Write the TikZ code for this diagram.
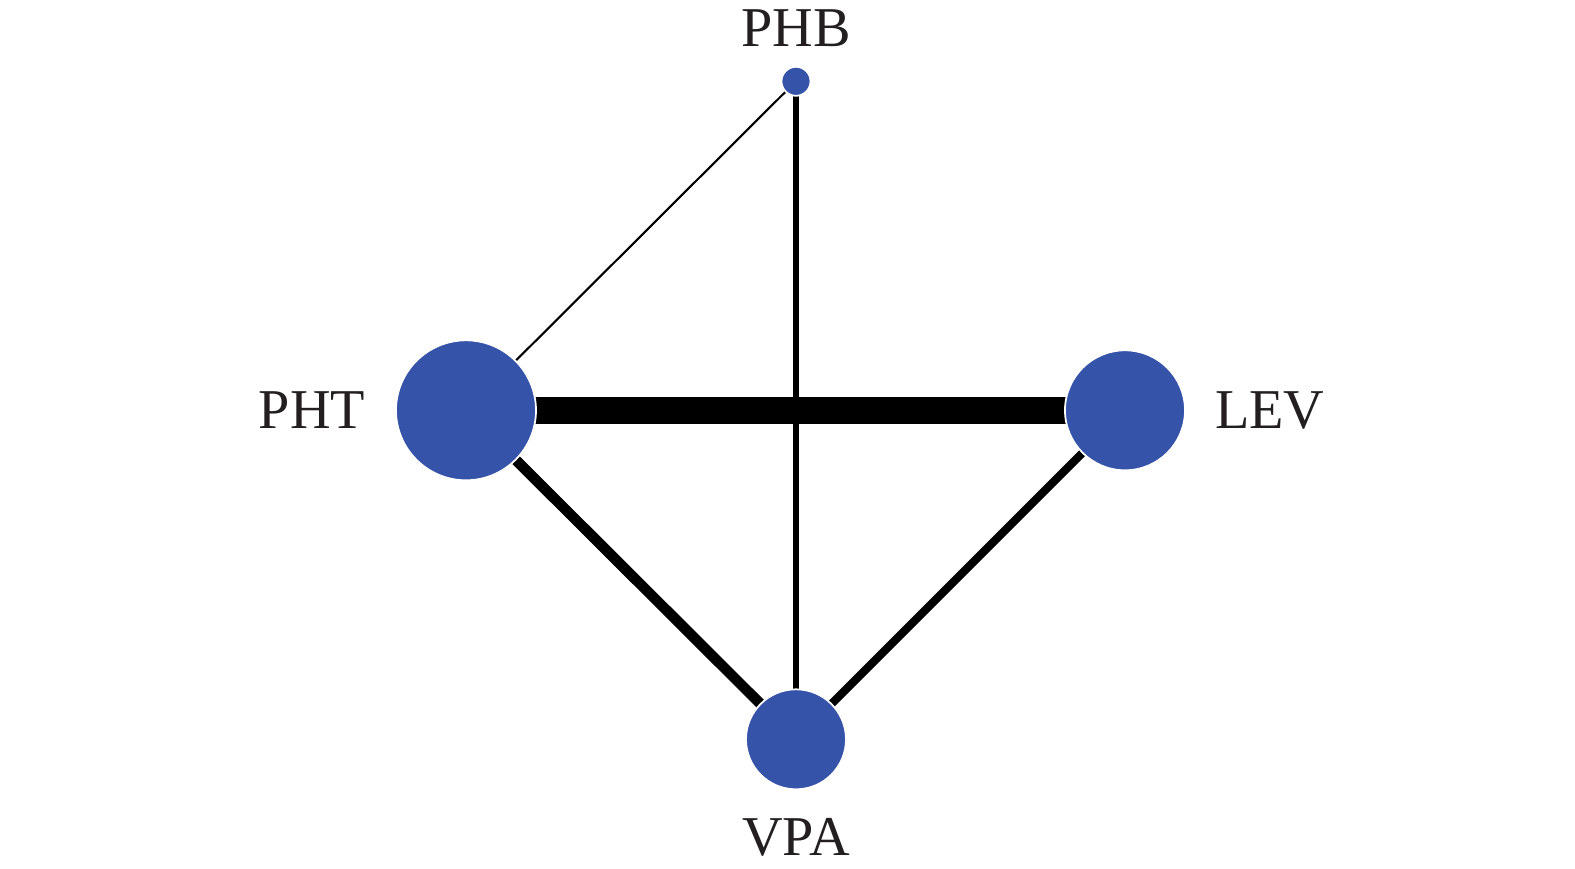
\documentclass[tikz,border=0pt]{standalone}
\usepackage{fontspec}
\setmainfont{Liberation Serif}
\usetikzlibrary{backgrounds}
\definecolor{netblue}{RGB}{52,83,169}
\definecolor{netline}{RGB}{35,31,32}

\begin{document}
\begin{tikzpicture}[line join=round, text=netline, font=\fontsize{16}{19}\selectfont,
  trt/.style={circle, fill=netblue, draw=white, line width=0.5pt, inner sep=0pt}]
\useasboundingbox (-7.96,-4.577) rectangle (7.79,4.103);
\node[trt, minimum size=0.29cm, label={[label distance=2pt]above:{PHB}}]   (PHB) at (0,3.29) {};
\node[trt, minimum size=1.40cm, label={[label distance=5pt]left:{PHT}}]    (PHT) at (-3.30,0) {};
\node[trt, minimum size=1.20cm, label={[label distance=4.8pt]right:{LEV}}] (LEV) at (3.29,0) {};
\node[trt, minimum size=1.00cm, label={[label distance=4.6pt]below:{VPA}}] (VPA) at (0,-3.29) {};
\begin{scope}[on background layer, draw=netline]
\draw[line width=0.6pt] (PHB.center)--(PHT.center);
\draw[line width=1.7pt] (PHB.center)--(VPA.center);
\draw[line width=7.7pt] (PHT.center)--(LEV.center);
\draw[line width=3pt]   (PHT.center)--(VPA.center);
\draw[line width=2.3pt] (LEV.center)--(VPA.center);
\end{scope}
\end{tikzpicture}
\end{document}
